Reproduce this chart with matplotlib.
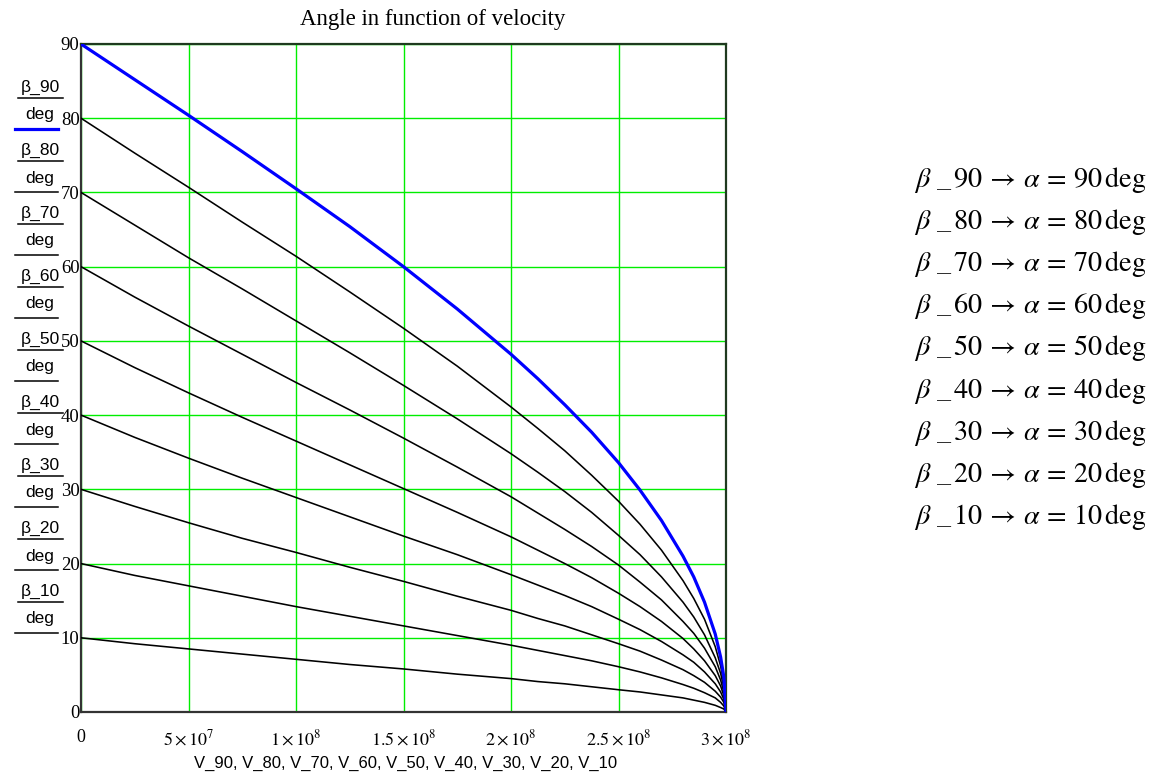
import numpy as np
import matplotlib
matplotlib.use('Agg')
import matplotlib.pyplot as plt
from matplotlib.lines import Line2D

plt.rcParams['mathtext.fontset'] = 'stix'
plt.rcParams['font.family'] = 'Liberation Serif'

# velocity samples (m/s)
velocity = [0, 0.25e8, 0.5e8, 0.75e8, 1.0e8, 1.25e8, 1.5e8, 1.75e8, 2.0e8, 2.125e8,
            2.25e8, 2.375e8, 2.5e8, 2.6e8, 2.7e8, 2.8e8, 2.85e8, 2.9e8, 2.95e8,
            2.975e8, 2.99e8, 3.0e8]

# beta (deg)
beta_90 = [90, 85.2, 80.4, 75.5, 70.5, 65.4, 60.0, 54.3, 48.2, 44.9, 41.4, 37.7, 33.6, 29.9, 25.8, 21.0, 18.2, 14.8, 10.5, 7.4, 4.7, 0]
beta_80 = [80, 75.3, 70.7, 66.0, 61.4, 56.6, 51.7, 46.6, 41.1, 38.2, 35.2, 31.9, 28.4, 25.3, 21.8, 17.7, 15.3, 12.5, 8.8, 6.2, 3.9, 0]
beta_70 = [70, 65.6, 61.2, 57.0, 52.7, 48.4, 44.0, 39.5, 34.8, 32.3, 29.7, 26.9, 23.8, 21.2, 18.2, 14.8, 12.8, 10.4, 7.3, 5.2, 3.3, 0]
beta_60 = [60, 55.9, 52.0, 48.2, 44.4, 40.7, 36.9, 33.0, 29.0, 26.8, 24.6, 22.3, 19.8, 17.5, 15.1, 12.2, 10.6, 8.6, 6.1, 4.3, 2.7, 0]
beta_50 = [50, 46.4, 43.0, 39.7, 36.5, 33.3, 30.1, 26.9, 23.6, 21.8, 20.0, 18.1, 16.0, 14.2, 12.2, 9.9, 8.5, 6.9, 4.9, 3.5, 2.2, 0]
beta_40 = [40, 37.0, 34.2, 31.5, 28.9, 26.3, 23.7, 21.2, 18.5, 17.1, 15.7, 14.2, 12.5, 11.1, 9.5, 7.7, 6.7, 5.4, 3.8, 2.7, 1.7, 0]
beta_30 = [30, 27.7, 25.5, 23.4, 21.5, 19.5, 17.6, 15.6, 13.7, 12.6, 11.6, 10.4, 9.2, 8.2, 7.0, 5.7, 4.9, 4.0, 2.8, 2.0, 1.3, 0]
beta_20 = [20, 18.4, 17.0, 15.6, 14.2, 12.9, 11.6, 10.3, 9.0, 8.3, 7.6, 6.9, 6.1, 5.4, 4.6, 3.7, 3.2, 2.6, 1.9, 1.3, 0.8, 0]
beta_10 = [10, 9.2, 8.5, 7.8, 7.1, 6.4, 5.8, 5.1, 4.5, 4.1, 3.8, 3.4, 3.0, 2.7, 2.3, 1.9, 1.6, 1.3, 0.9, 0.6, 0.4, 0]

curves = [beta_90, beta_80, beta_70, beta_60, beta_50, beta_40, beta_30, beta_20, beta_10]
names = ['90', '80', '70', '60', '50', '40', '30', '20', '10']

x_ticks = [0, 5e7, 1e8, 1.5e8, 2e8, 2.5e8, 3e8]
x_tick_labels = ['0', r'$5\times10^{7}$', r'$1\times10^{8}$', r'$1.5\times10^{8}$',
                 r'$2\times10^{8}$', r'$2.5\times10^{8}$', r'$3\times10^{8}$']
y_ticks = [0, 10, 20, 30, 40, 50, 60, 70, 80, 90]

W, H = 1154, 776
fig = plt.figure(figsize=(W / 100, H / 100), dpi=100)


def fx(px):
    return px / W


def fy(py):
    return 1 - py / H


ax = fig.add_axes([fx(81), fy(712), fx(726) - fx(81), fy(44) - fy(712)])

for i, b in enumerate(curves):
    if i == 0:
        ax.plot(velocity, b, color='#0000ff', lw=2.3, zorder=4, solid_joinstyle='round')
    else:
        ax.plot(velocity, b, color='black', lw=1.15, zorder=3, solid_joinstyle='round')

ax.set_xlim(0, 3e8)
ax.set_ylim(0, 90)
ax.set_xticks(x_ticks)
ax.set_xticklabels(x_tick_labels, fontsize=13)
ax.set_yticks(y_ticks)
ax.set_yticklabels([str(t) for t in y_ticks], fontsize=13.5)
for lbl in ax.get_yticklabels():
    lbl.set_verticalalignment('center_baseline')
ax.tick_params(axis='both', length=0)
ax.tick_params(axis='x', pad=12)
ax.tick_params(axis='y', pad=1)
ax.grid(True, color='#00ee00', lw=1.0)
ax.set_axisbelow(True)
for s in ['top', 'right']:
    ax.spines[s].set_color('#1f3a1f')
    ax.spines[s].set_linewidth(1.6)
for s in ['left', 'bottom']:
    ax.spines[s].set_color('#333333')
    ax.spines[s].set_linewidth(1.6)

fig.text(fx(433), fy(19), 'Angle in function of velocity', fontsize=16.5,
         ha='center', va='center')
fig.text(fx(406), fy(763), 'V_90, V_80, V_70, V_60, V_50, V_40, V_30, V_20, V_10',
         fontsize=12, family='Liberation Sans', ha='center', va='center')

# stacked fraction labels on the left
for i, n in enumerate(names):
    y0 = 87 + 63 * i
    fig.text(fx(40), fy(y0), 'β_' + n, family='Liberation Sans', fontsize=12.5,
             ha='center', va='center')
    fig.add_artist(Line2D([fx(18), fx(63)], [fy(y0 + 11), fy(y0 + 11)],
                          color='black', lw=1.1))
    fig.text(fx(40), fy(y0 + 28), 'deg', family='Liberation Sans', fontsize=12.5,
             ha='center', va='center')
    if i == 0:
        fig.add_artist(Line2D([fx(15), fx(58)], [fy(y0 + 42), fy(y0 + 42)],
                              color='#0000ff', lw=2.3))
    else:
        fig.add_artist(Line2D([fx(15), fx(58)], [fy(y0 + 42), fy(y0 + 42)],
                              color='black', lw=1.1))

# definitions on the right
for i, n in enumerate(names):
    fig.text(fx(914), fy(180 + 42.1 * i),
             r'$\beta\ \_\,' + n + r'\,\rightarrow\,\alpha\,=\,' + n + r'\,\mathrm{deg}$',
             fontsize=20.3, ha='left', va='center')

fig.savefig('out.png', dpi=100)
